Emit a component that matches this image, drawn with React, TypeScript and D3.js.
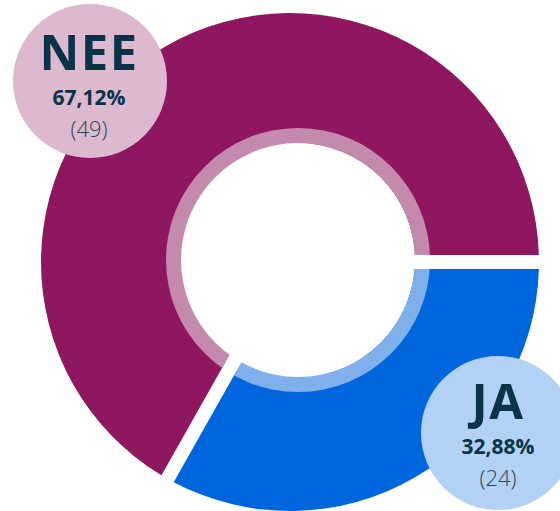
import React from "react";
import * as d3 from "d3";

const categories = ["NEE", "JA"];
const counts = [49, 24];
const percentLabels = ["67,12%", "32,88%"];
const countLabels = ["(49)", "(24)"];

const mainColors = ["#8E1760", "#0066DD"];
const ringColors = ["#C48AAE", "#7FB0EC"];
const bubbleColors = ["#DDB9D0", "#B3D1F5"];
const textColor = "#0B3347";

const W = 560;
const H = 511;

type Row = { name: string; count: number; pct: string; cnt: string; i: number };

export default function App() {
  const rows: Row[] = categories.map((name, i) => ({
    name,
    count: counts[i],
    pct: percentLabels[i],
    cnt: countLabels[i],
    i,
  }));

  const outerR = 249;
  const gap = 14;
  const cxA = 290, cyA = 262;
  const cxB = 298, cyB = 260;

  const pie = d3
    .pie<Row>()
    .value((d) => d.count)
    .sort((a, b) => a.count - b.count)
    .startAngle(Math.PI / 2)
    .endAngle(Math.PI / 2 + 2 * Math.PI)
    .padAngle(gap / outerR);

  const arcs = pie(rows);

  const mainArc = d3
    .arc<d3.PieArcDatum<Row>>()
    .innerRadius(120)
    .outerRadius(outerR)
    .padRadius(outerR);

  const clipArc = d3
    .arc<d3.PieArcDatum<Row>>()
    .innerRadius(40)
    .outerRadius(outerR + 5)
    .padRadius(outerR);

  const ringPath = d3.arc()({
    innerRadius: 117,
    outerRadius: 132,
    startAngle: 0,
    endAngle: 2 * Math.PI,
  } as any) as string;

  const bubbles = [
    { cx: 90, cy: 81, r: 77, tx: 89 },
    { cx: 498, cy: 433, r: 77, tx: 498 },
  ];

  const font = "'Open Sans', 'DejaVu Sans', sans-serif";

  return (
    <div style={{ position: "fixed", left: 0, top: 0, width: W, height: H, background: "#fff" }}>
      <svg width={W} height={H} viewBox={`0 0 ${W} ${H}`} style={{ display: "block" }}>
        <defs>
          {arcs.map((a) => (
            <clipPath key={"c" + a.data.name} id={"clip-" + a.data.name}>
              <path d={clipArc(a) || ""} transform={`translate(${cxA},${cyA})`} />
            </clipPath>
          ))}
        </defs>
        <g transform={`translate(${cxA},${cyA})`}>
          {arcs.map((a) => (
            <path key={"m" + a.data.name} d={mainArc(a) || ""} fill={mainColors[a.data.i]} />
          ))}
        </g>
        <circle cx={cxB} cy={cyB} r={117} fill="#fff" />
        {arcs.map((a) => (
          <g key={"r" + a.data.name} clipPath={`url(#clip-${a.data.name})`}>
            <path d={ringPath} transform={`translate(${cxB},${cyB})`} fill={ringColors[a.data.i]} />
          </g>
        ))}
        {rows.map((d) => {
          const b = bubbles[d.i];
          const base = d.i === 0 ? 0 : 1;
          return (
            <g key={"b" + d.name}>
              <circle cx={b.cx} cy={b.cy} r={b.r} fill={bubbleColors[d.i]} />
              <text
                x={b.tx}
                y={b.cy - 11 - base * 3}
                textAnchor="middle"
                fontFamily={font}
                fontWeight={700}
                fontSize={49}
                fill={textColor}
                letterSpacing={1.5}
              >
                {d.name}
              </text>
              <text
                x={b.tx}
                y={b.cy + 24 - base * 3}
                textAnchor="middle"
                fontFamily={font}
                fontWeight={700}
                fontSize={21}
                fill={textColor}
              >
                {d.pct}
              </text>
              <text
                x={b.tx}
                y={b.cy + 56 - base * 3}
                textAnchor="middle"
                fontFamily={font}
                fontWeight={300}
                fontSize={22}
                fill="#27485A"
              >
                {d.cnt}
              </text>
            </g>
          );
        })}
      </svg>
    </div>
  );
}
